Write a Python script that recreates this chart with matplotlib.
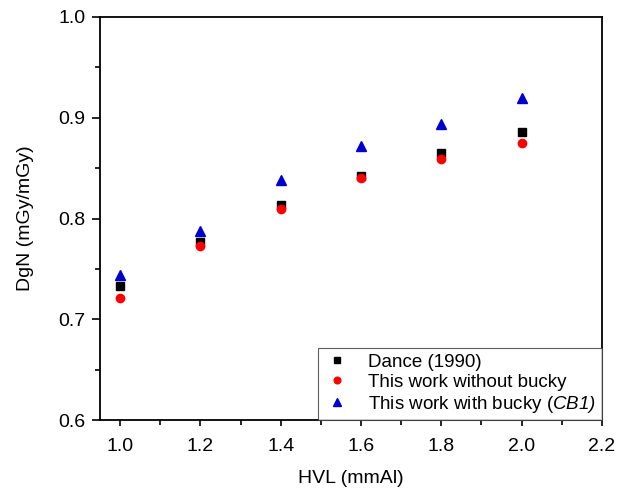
import numpy as np
import matplotlib.pyplot as plt
from matplotlib.ticker import MultipleLocator

plt.rcParams['font.family'] = ['Liberation Sans', 'DejaVu Sans']
plt.rcParams['mathtext.fontset'] = 'custom'
plt.rcParams['mathtext.rm'] = 'Liberation Sans:italic'
plt.rcParams['mathtext.it'] = 'Liberation Sans:italic'

hvl = [1.0, 1.2, 1.4, 1.6, 1.8, 2.0]
dance = [0.733, 0.777, 0.813, 0.842, 0.865, 0.886]
no_bucky = [0.721, 0.773, 0.810, 0.840, 0.859, 0.875]
with_bucky = [0.744, 0.788, 0.838, 0.872, 0.894, 0.920]

fig = plt.figure(figsize=(6.29, 4.94), dpi=100)
ax = fig.add_axes([0.159, 0.149, 0.798, 0.817])

ax.plot(hvl, dance, ls='none', marker='s', ms=5.5, color='black', label='Dance (1990)')
ax.plot(hvl, no_bucky, ls='none', marker='o', ms=6, color='#ff0000', label='This work without bucky')
ax.plot(hvl, with_bucky, ls='none', marker='^', ms=6.5, color='#0000cc',
        label='This work with bucky ($CB1)$')

ax.set_xlim(0.95, 2.2)
ax.set_ylim(0.6, 1.0)
ax.xaxis.set_major_locator(MultipleLocator(0.2))
ax.xaxis.set_minor_locator(MultipleLocator(0.1))
ax.yaxis.set_major_locator(MultipleLocator(0.1))
ax.yaxis.set_minor_locator(MultipleLocator(0.05))
ax.xaxis.set_major_formatter(plt.FormatStrFormatter('%.1f'))
ax.yaxis.set_major_formatter(plt.FormatStrFormatter('%.1f'))

ax.tick_params(which='both', direction='out', width=1.2, labelsize=14, top=False, right=False)
ax.tick_params(axis='x', which='major', length=4.5, pad=8)
ax.tick_params(axis='y', which='major', length=5.8, pad=4.5)
ax.tick_params(which='minor', length=3.5)
for s in ax.spines.values():
    s.set_linewidth(1.3)

ax.set_xlabel('HVL (mmAl)', fontsize=14, labelpad=11)
ax.set_ylabel('DgN (mGy/mGy)', fontsize=14, labelpad=18)

leg = ax.legend(loc='lower right', borderaxespad=0, fancybox=False, fontsize=13.5,
                handlelength=1.5, handletextpad=0.9, labelspacing=0.15, markerscale=0.8,
                borderpad=0.3)
leg.get_frame().set_edgecolor('#333333')
leg.get_frame().set_linewidth(0.8)

fig.savefig('out.png', dpi=100)
